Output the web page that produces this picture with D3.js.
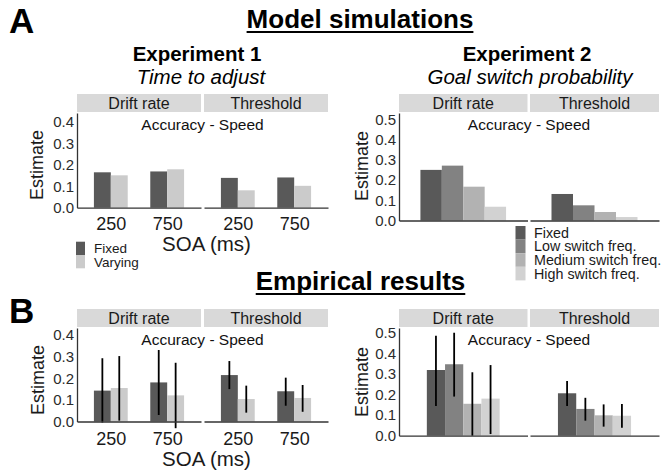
<!DOCTYPE html>
<html>
<head>
<meta charset="utf-8">
<script src="https://cdn.jsdelivr.net/npm/d3@7"></script>
<style>
  body { margin: 0; background: #fff; }
  svg { font-family: "Liberation Sans", Arial, sans-serif; }
</style>
</head>
<body>
<div id="chart"></div>
<script>
"use strict";

// == data ==
var facets = ["Drift rate", "Threshold"];
var soaLevels = ["250", "750"];
var exp1Series = ["Fixed", "Varying"];
var exp2Series = ["Fixed", "Low switch freq.", "Medium switch freq.", "High switch freq."];
var exp2Cats = [""];
var ticksExp1 = [0, 0.1, 0.2, 0.3, 0.4];
var ticksExp2 = [0, 0.1, 0.2, 0.3, 0.4, 0.5];

var exp1Colors = ["#595959", "#cbcbcb"];
var exp2Colors = ["#595959", "#828282", "#b2b2b2", "#d2d2d2"];

// model simulations, per SOA: [Fixed, Varying]
var simExp1Drift = [[0.165, 0.151], [0.169, 0.179]];
var simExp1Thresh = [[0.139, 0.081], [0.141, 0.102]];
// per series
var simExp2Drift = [0.250, 0.271, 0.167, 0.068];
var simExp2Thresh = [0.131, 0.075, 0.042, 0.017];

// empirical results
var empExp1Drift = [[0.143, 0.155], [0.181, 0.121]];
var empExp1DriftCI = [[[-0.005, 0.293], [0.004, 0.303]], [[0.030, 0.331], [-0.031, 0.272]]];
var empExp1Thresh = [[0.215, 0.104], [0.140, 0.109]];
var empExp1ThreshCI = [[[0.150, 0.280], [0.041, 0.166]], [[0.073, 0.203], [0.045, 0.169]]];
var empExp2Drift = [0.319, 0.347, 0.155, 0.180];
var empExp2DriftCI = [[0.144, 0.485], [0.190, 0.500], [0.000, 0.308], [0.008, 0.343]];
var empExp2Thresh = [0.206, 0.130, 0.099, 0.097];
var empExp2ThreshCI = [[0.144, 0.266], [0.073, 0.184], [0.044, 0.152], [0.039, 0.154]];

var W = 670, H = 470;
var svg = d3.select("#chart").append("svg")
  .attr("width", W).attr("height", H)
  .style("display", "block");

var axisCol = "#333";

// draws one faceted bar plot (two facets side by side)
var drawPlot = function (cfg) {
  var g = svg.append("g");
  var y = d3.scaleLinear().domain([0, cfg.ymax]).range([cfg.bottom, cfg.top]);

  cfg.facetX.forEach(function (ext, fi) {
    // strip
    g.append("rect")
      .attr("x", ext[0]).attr("y", cfg.top - 19)
      .attr("width", ext[1] - ext[0]).attr("height", 18)
      .attr("fill", "#d9d9d9");
    g.append("text")
      .attr("x", (ext[0] + ext[1]) / 2).attr("y", cfg.top - 4.5)
      .attr("text-anchor", "middle")
      .attr("font-size", 16).attr("fill", "#1a1a1a")
      .text(facets[fi]);

    var x = d3.scalePoint().domain(cfg.cats).range(ext).padding(0.6);
    var bw = x.step() * cfg.barFrac;
    var xs = d3.scaleBand().domain(cfg.series).range([-bw / 2, bw / 2]);

    cfg.cats.forEach(function (c, ci) {
      cfg.series.forEach(function (s, si) {
        var v = cfg.values[fi][ci][si];
        g.append("rect")
          .attr("x", x(c) + xs(s))
          .attr("y", y(v))
          .attr("width", xs.bandwidth())
          .attr("height", y(0) - y(v))
          .attr("fill", cfg.colors[si]);
      });
    });
    if (cfg.ci) {
      cfg.cats.forEach(function (c, ci) {
        cfg.series.forEach(function (s, si) {
          var r = cfg.ci[fi][ci][si];
          var cx = x(c) + xs(s) + xs.bandwidth() / 2;
          g.append("line")
            .attr("x1", cx).attr("x2", cx)
            .attr("y1", y(r[0])).attr("y2", y(r[1]))
            .attr("stroke", "#000").attr("stroke-width", 1.8);
        });
      });
    }

    var xa = g.append("g")
      .attr("transform", "translate(0," + cfg.bottom + ")")
      .call(d3.axisBottom(x).tickSize(0).tickSizeOuter(0).tickPadding(cfg.xPad));
    xa.select(".domain").attr("stroke", axisCol).attr("stroke-width", 1.3);
    xa.selectAll("text").attr("font-size", 18).attr("fill", "#1a1a1a")
      .style("font-family", "Liberation Sans, Arial, sans-serif");
  });

  var ya = g.append("g")
    .attr("transform", "translate(" + cfg.facetX[0][0] + ",0)")
    .call(d3.axisLeft(y).tickValues(cfg.ticks).tickSize(0).tickSizeOuter(0)
      .tickPadding(3).tickFormat(d3.format(".1f")));
  ya.select(".domain").attr("stroke", axisCol).attr("stroke-width", 1.3);
  ya.selectAll("text").attr("font-size", 15).attr("fill", "#2b2b2b")
    .style("font-family", "Liberation Sans, Arial, sans-serif");

  var left = cfg.facetX[0][0], right = cfg.facetX[1][1];
  g.append("text")
    .attr("x", (left + right) / 2).attr("y", cfg.top + 16.5)
    .attr("text-anchor", "middle").attr("font-size", 15.5).attr("fill", "#111")
    .text("Accuracy - Speed");

  g.append("text")
    .attr("transform", "translate(" + cfg.ylabX + "," + cfg.ylabY + ") rotate(-90)")
    .attr("text-anchor", "middle").attr("font-size", 18).attr("fill", "#1a1a1a")
    .text("Estimate");

  if (cfg.xTitleY) {
    g.append("text")
      .attr("x", 206.5).attr("y", cfg.xTitleY)
      .attr("text-anchor", "middle").attr("font-size", 20.5).attr("fill", "#1a1a1a")
      .text("SOA (ms)");
  }
};

var drawLegend = function (series, colors, x, y, h, w, textX, fs) {
  series.forEach(function (s, i) {
    svg.append("rect")
      .attr("x", x).attr("y", y + i * h)
      .attr("width", w).attr("height", h)
      .attr("fill", colors[i]);
    svg.append("text")
      .attr("x", textX).attr("y", y + i * h + h / 2 + 5)
      .attr("font-size", fs).attr("fill", "#1a1a1a")
      .text(s);
  });
};

var underlinedTitle = function (txt, cx, by) {
  var t = svg.append("text")
    .attr("x", cx).attr("y", by)
    .attr("text-anchor", "middle")
    .attr("font-size", 26).attr("font-weight", "bold")
    .text(txt);
  var bb = t.node().getBBox();
  svg.append("line")
    .attr("x1", bb.x).attr("x2", bb.x + bb.width)
    .attr("y1", by + 4).attr("y2", by + 4)
    .attr("stroke", "#000").attr("stroke-width", 2);
};

// == panel letters and titles ==
svg.append("text").attr("x", 9).attr("y", 33)
  .attr("font-size", 35).attr("font-weight", "bold").text("A");
svg.append("text").attr("x", 9).attr("y", 323)
  .attr("font-size", 35).attr("font-weight", "bold").text("B");
underlinedTitle("Model simulations", 360, 28);
underlinedTitle("Empirical results", 360.5, 290);

svg.append("text").attr("x", 197).attr("y", 60.5)
  .attr("text-anchor", "middle").attr("font-size", 20.5).attr("font-weight", "bold")
  .text("Experiment 1");
svg.append("text").attr("x", 201).attr("y", 84)
  .attr("text-anchor", "middle").attr("font-size", 20.5).attr("font-style", "italic")
  .text("Time to adjust");
svg.append("text").attr("x", 527).attr("y", 60.5)
  .attr("text-anchor", "middle").attr("font-size", 20.5).attr("font-weight", "bold")
  .text("Experiment 2");
svg.append("text").attr("x", 530).attr("y", 84)
  .attr("text-anchor", "middle").attr("font-size", 20.5).attr("font-style", "italic")
  .text("Goal switch probability");

// == A: model simulations ==
drawPlot({
  facetX: [[77, 201], [204, 328]], top: 113, bottom: 207.7, ymax: 0.4415,
  ticks: ticksExp1, cats: soaLevels, series: exp1Series, colors: exp1Colors,
  barFrac: 0.6, values: [simExp1Drift, simExp1Thresh], xPad: 9.5,
  ylabX: 43, ylabY: 165, xTitleY: 251
});
drawPlot({
  facetX: [[399, 527.5], [530, 659]], top: 113, bottom: 220.5, ymax: 0.531,
  ticks: ticksExp2, cats: exp2Cats, series: exp2Series, colors: exp2Colors,
  barFrac: 0.8, values: [[simExp2Drift], [simExp2Thresh]], xPad: 9.5,
  ylabX: 368, ylabY: 166
});
drawLegend(exp1Series, exp1Colors, 76, 241.7, 13.3, 9, 94, 13.5);
drawLegend(exp2Series, exp2Colors, 515.5, 226, 13.6, 10, 534, 14.3);

// == B: empirical results ==
drawPlot({
  facetX: [[77, 201], [204, 328]], top: 328, bottom: 421.5, ymax: 0.433,
  ticks: ticksExp1, cats: soaLevels, series: exp1Series, colors: exp1Colors,
  barFrac: 0.6, values: [empExp1Drift, empExp1Thresh],
  ci: [empExp1DriftCI, empExp1ThreshCI], xPad: 10.5,
  ylabX: 44, ylabY: 380, xTitleY: 466
});
drawPlot({
  facetX: [[399, 527.5], [530, 659]], top: 328, bottom: 435.7, ymax: 0.523,
  ticks: ticksExp2, cats: exp2Cats, series: exp2Series, colors: exp2Colors,
  barFrac: 0.68, values: [[empExp2Drift], [empExp2Thresh]],
  ci: [[empExp2DriftCI], [empExp2ThreshCI]], xPad: 9.5,
  ylabX: 368, ylabY: 382
});
</script>
</body>
</html>
